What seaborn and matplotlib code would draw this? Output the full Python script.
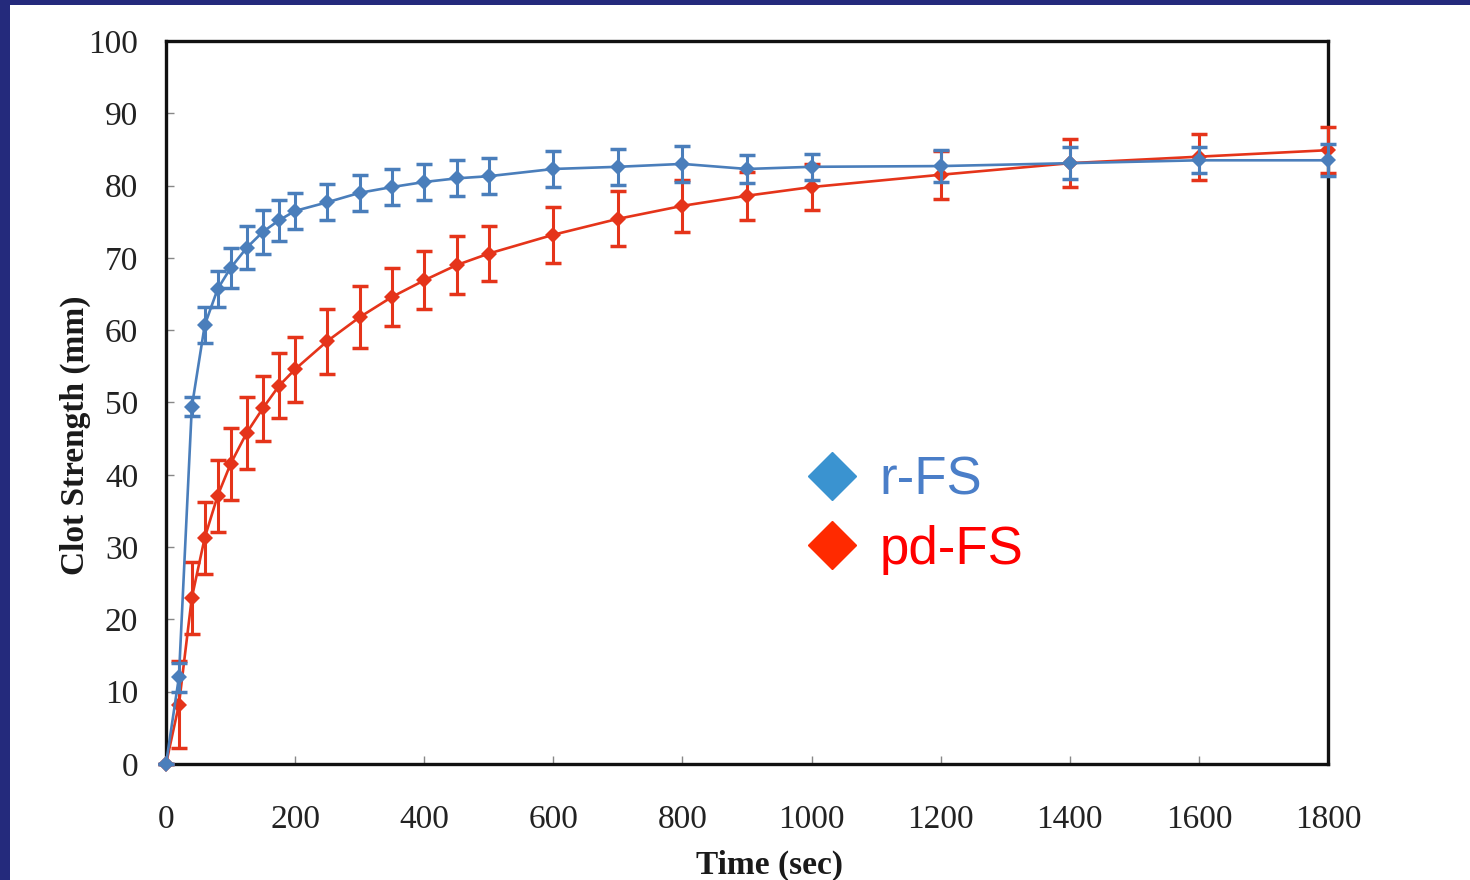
import numpy as np
import pandas as pd
import matplotlib
matplotlib.use('Agg')
import matplotlib.pyplot as plt
import seaborn as sns
from matplotlib.lines import Line2D
from matplotlib.patches import Rectangle

# time points (sec)
time_sec = [0, 20, 40, 60, 80, 100, 125, 150, 175, 200, 250, 300, 350, 400,
            450, 500, 600, 700, 800, 900, 1000, 1200, 1400, 1600, 1800]

# r-FS clot strength (mm) and error
rfs_mean = [0, 12, 49.4, 60.7, 65.7, 68.6, 71.4, 73.6, 75.2, 76.5, 77.7, 79.0, 79.8, 80.5,
            81.0, 81.3, 82.3, 82.6, 83.0, 82.3, 82.6, 82.7, 83.1, 83.5, 83.5]
rfs_err = [0, 2.0, 1.3, 2.5, 2.5, 2.8, 3.0, 3.0, 2.8, 2.5, 2.5, 2.5, 2.5, 2.5,
           2.5, 2.5, 2.5, 2.5, 2.5, 2.0, 1.8, 2.2, 2.2, 1.8, 2.2]

# pd-FS clot strength (mm) and error
pdfs_mean = [0, 8.2, 23.0, 31.3, 37.1, 41.5, 45.8, 49.2, 52.3, 54.6, 58.5, 61.8, 64.6, 66.9,
             69.0, 70.6, 73.2, 75.4, 77.2, 78.6, 79.8, 81.5, 83.1, 84.0, 84.9]
pdfs_err = [0, 6.0, 5.0, 5.0, 5.0, 5.0, 5.0, 4.5, 4.5, 4.5, 4.5, 4.3, 4.0, 4.0,
            4.0, 3.8, 3.9, 3.8, 3.6, 3.3, 3.2, 3.3, 3.3, 3.2, 3.2]

x_ticks = [0, 200, 400, 600, 800, 1000, 1200, 1400, 1600, 1800]
y_ticks = [0, 10, 20, 30, 40, 50, 60, 70, 80, 90, 100]

blue = '#4A7EBB'
red = '#E5341A'

sns.set_theme(style='white')
plt.rcParams['font.family'] = ['Liberation Serif', 'DejaVu Serif']

fig = plt.figure(figsize=(14.7, 8.8), dpi=100)
fig.patch.set_facecolor('#242a7c')
fig.add_artist(Rectangle((10 / 1470, 0), 1 - 10 / 1470, 1 - 5 / 880,
                         transform=fig.transFigure, facecolor='white',
                         edgecolor='none', zorder=-10))

ax = fig.add_axes([166 / 1470, 1 - 764 / 880, (1328 - 166) / 1470, (764 - 41) / 880])
ax.set_facecolor('white')

df_pd = pd.DataFrame({'t': time_sec, 'v': pdfs_mean})
df_r = pd.DataFrame({'t': time_sec, 'v': rfs_mean})

# pd-FS first, r-FS on top
ax.errorbar(time_sec, pdfs_mean, yerr=pdfs_err, fmt='none', ecolor=red,
            elinewidth=2.2, capsize=6, capthick=2.5, zorder=3)
sns.lineplot(data=df_pd, x='t', y='v', color=red, marker='D', markersize=8,
             markeredgewidth=0, linewidth=1.9, ax=ax, zorder=4)
ax.errorbar(time_sec, rfs_mean, yerr=rfs_err, fmt='none', ecolor=blue,
            elinewidth=2.2, capsize=6, capthick=2.5, zorder=5)
sns.lineplot(data=df_r, x='t', y='v', color=blue, marker='D', markersize=8,
             markeredgewidth=0, linewidth=1.9, ax=ax, zorder=6)
for ln in ax.lines:
    ln.set_clip_on(False)
for coll in ax.collections:
    coll.set_clip_on(False)

ax.set_xlim(0, 1800)
ax.set_ylim(0, 100)
ax.set_xticks(x_ticks)
ax.set_yticks(y_ticks)
ax.tick_params(axis='both', direction='in', length=6, width=1, color='#888888',
               labelsize=24, labelcolor='#222222', left=True, bottom=True)
ax.tick_params(axis='y', pad=20)
ax.tick_params(axis='x', pad=29)
for side in ['left', 'right', 'top', 'bottom']:
    ax.spines[side].set_color('#111111')
    ax.spines[side].set_linewidth(2.4)
    ax.spines[side].set_visible(True)

ax.set_xlabel('Time (sec)', fontsize=24, fontweight='bold', color='#1a1a1a')
ax.set_ylabel('Clot Strength (mm)', fontsize=24, fontweight='bold', color='#1a1a1a')
ax.xaxis.set_label_coords((770 - 166) / 1162, (764 - 865) / 723)
ax.yaxis.set_label_coords((75 - 166) / 1162, (764 - 435) / 723)
ax.xaxis.label.set_verticalalignment('center')
ax.yaxis.label.set_verticalalignment('center')

handles = [Line2D([], [], linestyle='none', marker='D', markersize=24, color='#3A93D0'),
           Line2D([], [], linestyle='none', marker='D', markersize=24, color='#FF2A00')]
leg = ax.legend(handles, ['r-FS', 'pd-FS'], loc='upper left',
                bbox_to_anchor=((774 - 166) / 1162, (764 - 429) / 723),
                frameon=False, handletextpad=0.3, labelspacing=0.37,
                handlelength=1.2, borderpad=0,
                prop={'family': 'Liberation Sans', 'size': 38},
                labelcolor=['#4A7EC8', '#FF0000'])

plt.savefig('out.png', dpi=100, facecolor=fig.get_facecolor())
